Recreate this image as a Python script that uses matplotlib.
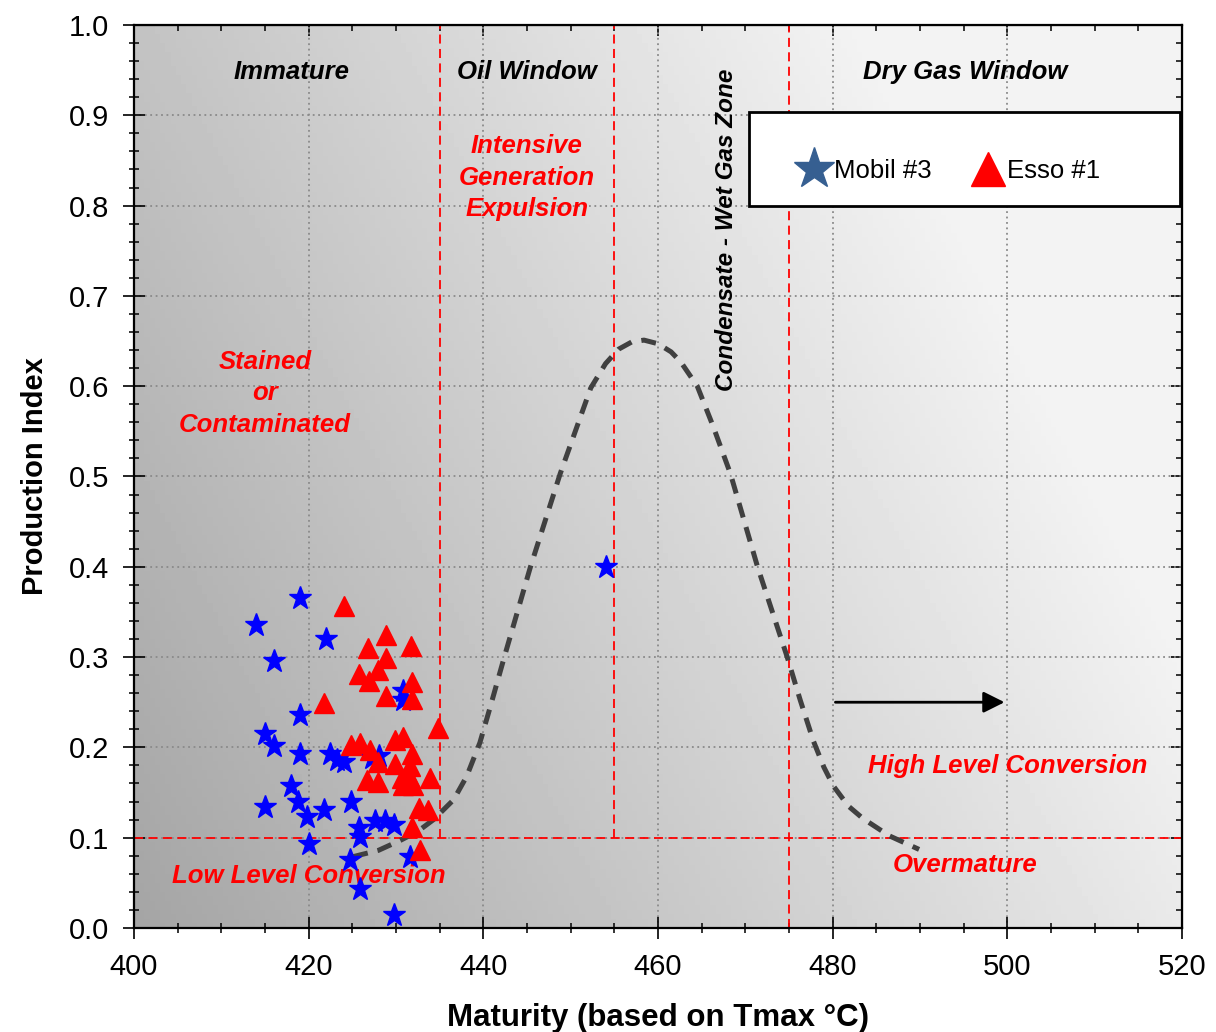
import numpy as np
import matplotlib
matplotlib.use("Agg")
import matplotlib.pyplot as plt
from matplotlib.lines import Line2D
from matplotlib.patches import Rectangle
from matplotlib.ticker import MultipleLocator

plt.rcParams["font.family"] = ["Liberation Sans", "DejaVu Sans"]

# Mobil #3 samples (Tmax, PI)
mobil_tmax = [419, 414, 422, 416, 430.8, 430.8, 419, 415, 416, 419, 422.5, 423.2,
              424, 427.2, 428, 418, 415, 418.8, 421.8, 419.8, 424.8, 420, 425.8,
              425.9, 427.6, 428.7, 429.8, 424.7, 431.6, 425.9, 429.8, 454]
mobil_pi = [0.365, 0.335, 0.32, 0.296, 0.262, 0.252, 0.236, 0.215, 0.202, 0.193,
            0.193, 0.186, 0.184, 0.188, 0.19, 0.157, 0.134, 0.14, 0.131, 0.123,
            0.139, 0.093, 0.111, 0.101, 0.118, 0.118, 0.114, 0.075, 0.079, 0.043,
            0.014, 0.40]

# Esso #1 samples (Tmax, PI)
esso_tmax = [424, 428.9, 426.8, 431.7, 428.9, 427.9, 425.8, 426.9, 431.8, 428.9,
             431.8, 421.8, 434.8, 424.9, 425.9, 427, 427.9, 426.7, 427.9, 429.9,
             430.8, 429.9, 431.8, 431.6, 430.7, 431.6, 430.8, 432, 433.9, 432.6,
             433.7, 431.8, 432.7]
esso_pi = [0.357, 0.324, 0.31, 0.312, 0.299, 0.286, 0.281, 0.274, 0.272, 0.257,
           0.254, 0.249, 0.221, 0.203, 0.205, 0.197, 0.184, 0.164, 0.162, 0.208,
           0.212, 0.182, 0.193, 0.179, 0.166, 0.166, 0.158, 0.158, 0.166, 0.133,
           0.131, 0.112, 0.086]

# generation envelope curve
curve_tmax = [425.1, 428, 430.5, 432.5, 434.3, 436.6, 438.1, 439.6, 440.8, 442.4,
              445.4, 448.8, 452.3, 454, 455.5, 457, 458.4, 460, 461.5, 462.6,
              464.5, 466.3, 468.3, 471.4, 474.8, 476.3, 477.8, 479, 480.1, 481.8,
              483.5, 486.5, 489.9]
curve_pi = [0.079, 0.086, 0.097, 0.107, 0.12, 0.142, 0.168, 0.205, 0.245, 0.30,
            0.40, 0.503, 0.598, 0.625, 0.641, 0.649, 0.651, 0.647, 0.638, 0.627,
            0.60, 0.556, 0.503, 0.40, 0.30, 0.252, 0.207, 0.178, 0.157, 0.135,
            0.121, 0.102, 0.087]

# zone boundaries
pi_cutoff = 0.1
oil_start, oil_end, wet_gas_end = 435, 455, 475

fig = plt.figure(figsize=(12.16, 10.32), dpi=100)
ax = fig.add_axes([0.1102, 0.1008, 0.8618, 0.875])

# gray gradient background
u, v = np.meshgrid(np.linspace(0, 1, 200), np.linspace(0, 1, 200))
shade = np.clip(0.645 + 0.27 * u + 0.12 * v, 0, 0.955)
ax.imshow(shade, cmap="gray", vmin=0, vmax=1, origin="lower",
          extent=[0, 1, 0, 1], transform=ax.transAxes, aspect="auto", zorder=0)

ax.set_xlim(400, 520)
ax.set_ylim(0, 1.0)
ax.grid(True, which="major", color="#8a8a8a", linestyle=(0, (1, 2)), lw=1.3, zorder=1)

# red zone lines
red_dash = (0, (5, 3))
ax.axhline(pi_cutoff, color="red", ls=red_dash, lw=1.3, zorder=2)
ax.plot([oil_start, oil_start], [pi_cutoff, 1.0], color="red", ls=red_dash, lw=1.3, zorder=2)
ax.plot([oil_end, oil_end], [pi_cutoff, 1.0], color="red", ls=red_dash, lw=1.3, zorder=2)
ax.axvline(wet_gas_end, color="red", ls=red_dash, lw=1.3, zorder=2)

ax.plot(curve_tmax, curve_pi, color="#404040", ls=(0, (3, 2)), lw=3.6, zorder=3,
        solid_joinstyle="round", dash_joinstyle="round")

ax.plot(mobil_tmax, mobil_pi, ls="none", marker="*", ms=17, color="#0000ff",
        mec="#0000ff", zorder=4)
ax.plot(esso_tmax, esso_pi, ls="none", marker="^", ms=14, color="#ff0000",
        mec="#ff0000", zorder=5)

ax.annotate("", xy=(500, 0.25), xytext=(480, 0.25),
            arrowprops=dict(arrowstyle="-|>", color="black", lw=2, mutation_scale=32),
            zorder=6)

# zone labels
bi = dict(fontsize=18.5, fontweight="bold", fontstyle="italic", ha="center", va="center")
ax.text(418, 0.948, "Immature", color="black", **bi)
ax.text(445, 0.948, "Oil Window", color="black", **bi)
ax.text(495.2, 0.948, "Dry Gas Window", color="black", **bi)
ax.text(467.9, 0.773, "Condensate - Wet Gas Zone", color="black", rotation=90,
        fontsize=17.5, fontweight="bold", fontstyle="italic", ha="center", va="center")
ax.text(445, 0.831, "Intensive\nGeneration\nExpulsion", color="red", linespacing=1.38, **bi)
ax.text(415, 0.592, "Stained\nor\nContaminated", color="red", linespacing=1.38, **bi)
ax.text(420, 0.058, "Low Level Conversion", color="red", **bi)
ax.text(500.1, 0.179, "High Level Conversion", color="red", **bi)
ax.text(495.2, 0.07, "Overmature", color="red", **bi)

# legend box
ax.add_patch(Rectangle((0.587, 0.7996), 0.411, 0.1041, transform=ax.transAxes,
                       facecolor="white", edgecolor="black", lw=2, zorder=7))
handles = [Line2D([], [], ls="none", marker="*", ms=31, color="#365f91", mec="#365f91"),
           Line2D([], [], ls="none", marker="^", ms=24, color="#ff0000", mec="#ff0000")]
leg = ax.legend(handles, ["Mobil #3", "Esso #1"], loc="center", ncol=2,
                bbox_to_anchor=(0.777, 0.838), frameon=False, fontsize=18.5,
                handlelength=1.4, handletextpad=0.05, columnspacing=1.5)
leg.set_zorder(8)

# ticks
ax.xaxis.set_major_locator(MultipleLocator(20))
ax.xaxis.set_minor_locator(MultipleLocator(5))
ax.yaxis.set_major_locator(MultipleLocator(0.1))
ax.yaxis.set_minor_locator(MultipleLocator(0.02))
ax.yaxis.set_major_formatter(matplotlib.ticker.FormatStrFormatter("%.1f"))
ax.tick_params(which="major", direction="inout", length=16, width=1.2,
               labelsize=21, pad=10)
ax.tick_params(which="minor", direction="inout", length=7, width=1.1)

top = ax.secondary_xaxis("top")
top.xaxis.set_major_locator(MultipleLocator(20))
top.xaxis.set_minor_locator(MultipleLocator(5))
top.tick_params(which="major", direction="in", length=8, width=1.2, labeltop=False)
top.tick_params(which="minor", direction="in", length=4, width=1.1)
right = ax.secondary_yaxis("right")
right.yaxis.set_major_locator(MultipleLocator(0.1))
right.yaxis.set_minor_locator(MultipleLocator(0.02))
right.tick_params(which="major", direction="in", length=8, width=1.2, labelright=False)
right.tick_params(which="minor", direction="in", length=4, width=1.1)

for s in ax.spines.values():
    s.set_linewidth(1.6)

ax.set_xlabel("Maturity (based on Tmax °C)", fontsize=22.5, fontweight="bold", labelpad=16)
ax.set_ylabel("Production Index", fontsize=21, fontweight="bold", labelpad=14)

fig.savefig("out.png", dpi=100)
